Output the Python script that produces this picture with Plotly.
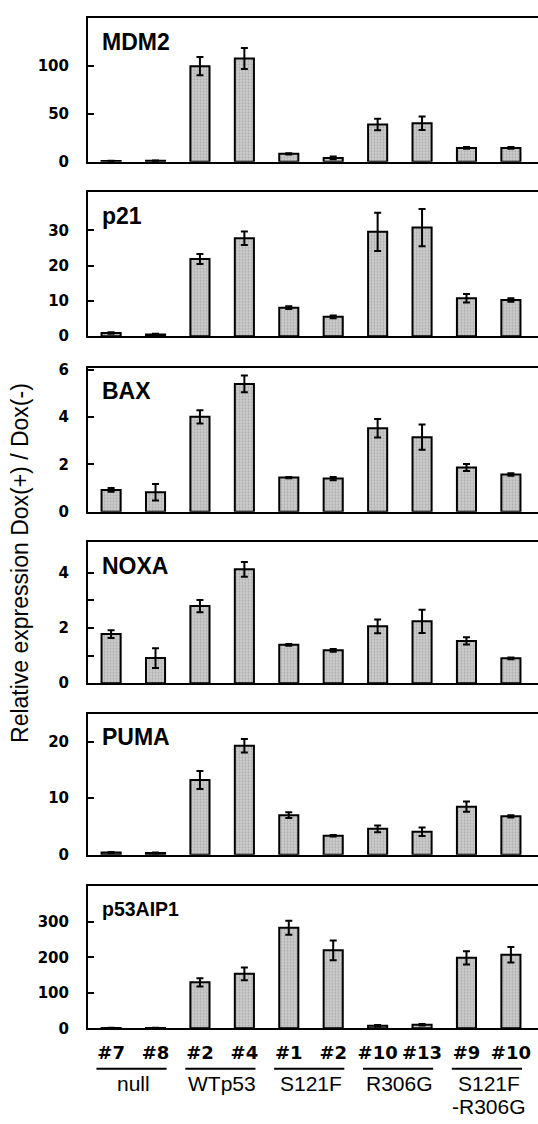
import plotly.graph_objects as go

# ---------------- data ----------------
clones = ["#7", "#8", "#2", "#4", "#1", "#2", "#10", "#13", "#9", "#10"]
groups = ["null", "WTp53", "S121F", "R306G", "S121F"]
group_line2 = ["", "", "", "", "-R306G"]
genes = ["MDM2", "p21", "BAX", "NOXA", "PUMA", "p53AIP1"]

mdm2 = [0.7, 1.0, 100, 108, 8.3, 4.0, 39, 40.3, 14.5, 14.5]
mdm2_err = [0.3, 0.3, 9.5, 11, 0.6, 1.5, 6, 7, 1.0, 1.0]
p21 = [0.9, 0.5, 21.9, 27.8, 8.1, 5.5, 29.6, 30.8, 10.8, 10.3]
p21_err = [0.2, 0.2, 1.4, 1.9, 0.4, 0.4, 5.4, 5.3, 1.2, 0.5]
bax = [0.92, 0.82, 4.01, 5.4, 1.44, 1.4, 3.53, 3.15, 1.87, 1.57]
bax_err = [0.08, 0.35, 0.28, 0.35, 0.03, 0.07, 0.39, 0.53, 0.15, 0.05]
noxa = [1.78, 0.91, 2.79, 4.12, 1.39, 1.19, 2.06, 2.24, 1.53, 0.9]
noxa_err = [0.14, 0.36, 0.22, 0.27, 0.03, 0.05, 0.25, 0.42, 0.13, 0.03]
puma = [0.4, 0.3, 13.2, 19.25, 7.0, 3.36, 4.58, 4.06, 8.5, 6.8]
puma_err = [0.1, 0.1, 1.6, 1.2, 0.5, 0.15, 0.6, 0.75, 0.9, 0.2]
aip1 = [1, 1, 129.6, 153.7, 284, 220, 7, 10, 199, 207.5]
aip1_err = [0.5, 0.5, 12, 18, 19.6, 28, 2, 2, 18.6, 22]

values = [mdm2, p21, bax, noxa, puma, aip1]
errors = [mdm2_err, p21_err, bax_err, noxa_err, puma_err, aip1_err]
y_max = [150.5, 40.8, 6.08, 5.1, 24.9, 401]
y_tickvals = [[0, 50, 100], [0, 10, 20, 30], [0, 2, 4, 6], [0, 1, 2, 3, 4],
              [0, 10, 20], [0, 100, 200, 300]]
y_ticktext = [["0", "50", "100"], ["0", "10", "20", "30"], ["0", "2", "4", "6"],
              ["0", "", "2", "", "4"], ["0", "10", "20"], ["0", "100", "200", "300"]]

# ---------------- layout constants ----------------
W, H = 538, 1124
panel_px = [(11, 157), (188, 334), (366, 512), (543, 686), (717, 860), (892, 1036)]
x_left = 88 / W
xs = list(range(len(clones)))

fig = go.Figure()
layout = dict(
    width=W, height=H, margin=dict(l=0, r=0, t=0, b=0),
    paper_bgcolor="white", plot_bgcolor="white", showlegend=False,
)
annotations = []
shapes = []

for i, (vals, errs) in enumerate(zip(values, errors)):
    n = i + 1
    xa = "x" if n == 1 else f"x{n}"
    ya = "y" if n == 1 else f"y{n}"
    fig.add_trace(go.Bar(
        x=xs, y=vals, xaxis=xa, yaxis=ya, width=0.43,
        marker=dict(color="#c4c4c4", line=dict(color="black", width=2),
                    pattern=dict(shape=".", fgcolor="#8c8c8c", bgcolor="#cbcbcb",
                                 size=3, solidity=0.3)),
        error_y=dict(type="data", array=errs, visible=True, color="black",
                     thickness=2, width=3.5),
    ))
    top, bot = panel_px[i]
    dom = [1 - bot / H, 1 - top / H]
    last = (n == len(values))
    layout[f"xaxis{'' if n == 1 else n}"] = dict(
        domain=[x_left, 1], anchor=ya, range=[-0.52, 9.61],
        showline=True, linecolor="black", linewidth=2, mirror=True,
        showgrid=False, zeroline=False, ticks="",
        tickvals=xs if last else [], ticktext=clones if last else [],
        showticklabels=last,
        tickfont=dict(family="DejaVu Sans", size=18, color="black", weight="bold"),
        ticklabelstandoff=7,
    )
    layout[f"yaxis{'' if n == 1 else n}"] = dict(
        domain=dom, anchor=xa, range=[0, y_max[i]],
        showline=True, linecolor="black", linewidth=2, mirror=False,
        showgrid=False, zeroline=False,
        ticks="inside", ticklen=6, tickwidth=1.5, tickcolor="black",
        tickvals=y_tickvals[i], ticktext=y_ticktext[i],
        tickfont=dict(family="DejaVu Sans", size=15, color="black", weight="bold"),
        ticklabelstandoff=14,
    )
    annotations.append(dict(
        text=genes[i], xref="paper", yref="paper", x=100 / W,
        y=1 - (top + (24 if i < 5 else 23)) / H,
        xanchor="left", yanchor="middle", showarrow=False,
        font=dict(family="Liberation Sans", size=23 if i < 5 else 19.5,
                  color="black", weight="bold"),
    ))

# group underlines and labels under bottom panel
for g in range(len(groups)):
    a, b = 2 * g, 2 * g + 1
    shapes.append(dict(type="line", xref="x6", yref="paper",
                       x0=a - 0.33, x1=b + 0.25, y0=1 - 1077 / H, y1=1 - 1077 / H,
                       line=dict(color="black", width=2)))
    annotations.append(dict(
        text=groups[g], xref="x6", yref="paper", x=(a + b) / 2, y=1 - 1092 / H,
        xanchor="center", yanchor="middle", showarrow=False,
        font=dict(family="Liberation Sans", size=21, color="black"),
    ))
    if group_line2[g]:
        annotations.append(dict(
            text=group_line2[g], xref="x6", yref="paper", x=(a + b) / 2,
            y=1 - 1115 / H, xanchor="center", yanchor="middle", showarrow=False,
            font=dict(family="Liberation Sans", size=21, color="black"),
        ))

annotations.append(dict(
    text="Relative expression Dox(+) / Dox(-)", xref="paper", yref="paper",
    x=20 / W, y=1 - 564 / H, textangle=-90, xanchor="center", yanchor="middle",
    showarrow=False, font=dict(family="Liberation Sans", size=23, color="black"),
))

layout["annotations"] = annotations
layout["shapes"] = shapes
fig.update_layout(**layout)
fig.write_html("out.html")
